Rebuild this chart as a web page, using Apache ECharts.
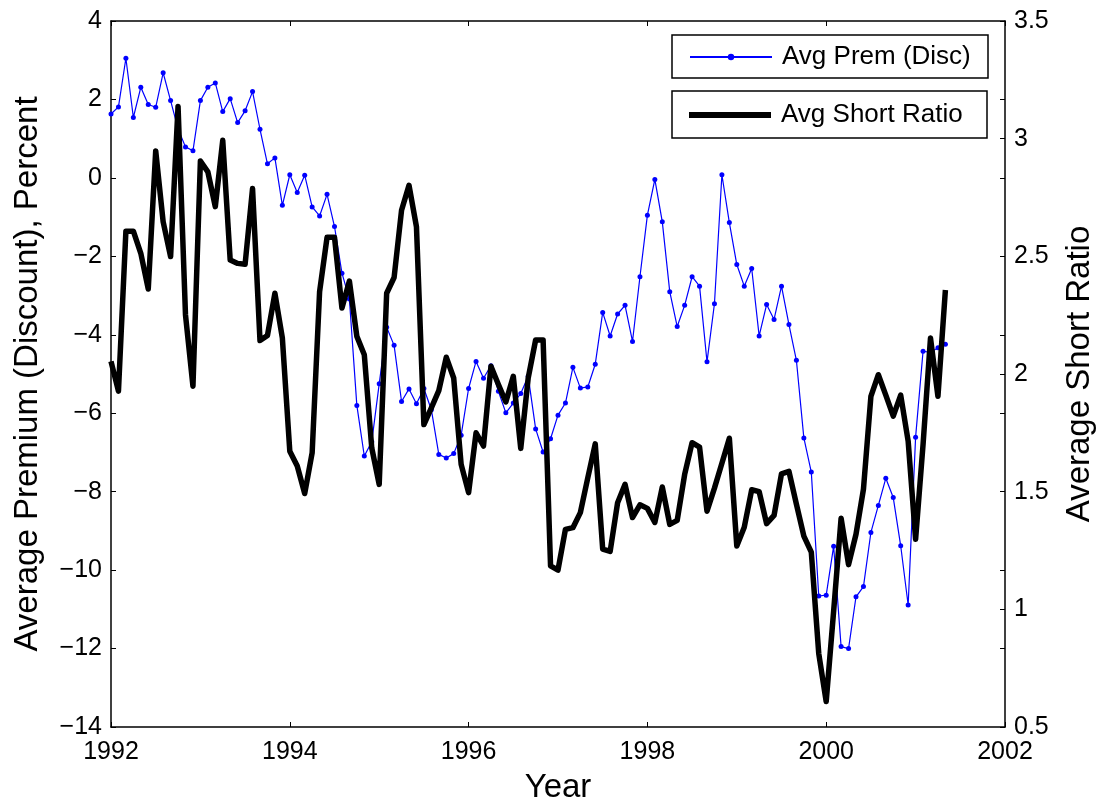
<!DOCTYPE html>
<html style="height: 100%">
<head>
<meta charset="utf-8">
<script src="https://cdn.jsdelivr.net/npm/echarts@6/dist/echarts.min.js"></script>
</head>
<body style="height: 100%; margin: 0; background: #fff">
<div id="chart" style="width: 1102px; height: 803px;"></div>
<script type="text/javascript">
// monthly observations, Jan 1992 .. May 2001
var startYear = 1992;
var premDisc = [
    1.63, 1.81, 3.05, 1.54, 2.31, 1.87, 1.80, 2.68, 1.97, 1.25, 0.79, 0.69,
    1.97, 2.31, 2.42, 1.69, 2.02, 1.41, 1.71, 2.20, 1.24, 0.36, 0.51, -0.70,
    0.08, -0.37, 0.07, -0.74, -0.97, -0.42, -1.24, -2.43, -3.09, -5.80, -7.09, -6.73,
    -5.25, -3.81, -4.27, -5.70, -5.38, -5.76, -5.37, -5.91, -7.05, -7.14, -7.03, -6.56,
    -5.37, -4.68, -5.11, -4.79, -5.44, -5.99, -5.74, -5.50, -5.06, -6.40, -6.99, -6.65,
    -6.05, -5.74, -4.83, -5.36, -5.33, -4.75, -3.43, -4.03, -3.47, -3.25, -4.17, -2.52,
    -0.95, -0.04, -1.12, -2.90, -3.79, -3.25, -2.52, -2.76, -4.69, -3.21, 0.08, -1.14,
    -2.21, -2.76, -2.31, -4.03, -3.23, -3.61, -2.76, -3.74, -4.65, -6.63, -7.50, -10.66,
    -10.64, -9.39, -11.95, -12.00, -10.68, -10.42, -9.04, -8.35, -7.66, -8.15, -9.38, -10.89,
    -6.61, -4.42, -4.45, -4.33, -4.24
];
var shortRatio = [
    2.054, 1.927, 2.607, 2.607, 2.513, 2.361, 2.948, 2.647, 2.499, 3.137, 2.251, 1.948,
    2.905, 2.859, 2.711, 2.993, 2.484, 2.470, 2.466, 2.788, 2.142, 2.164, 2.343, 2.153,
    1.672, 1.609, 1.492, 1.665, 2.350, 2.581, 2.581, 2.280, 2.395, 2.160, 2.082, 1.686,
    1.531, 2.343, 2.410, 2.696, 2.802, 2.626, 1.785, 1.856, 1.929, 2.071, 1.983, 1.616,
    1.496, 1.750, 1.694, 2.033, 1.955, 1.881, 1.990, 1.684, 1.983, 2.145, 2.145, 1.185,
    1.167, 1.340, 1.347, 1.411, 1.559, 1.703, 1.256, 1.246, 1.453, 1.531, 1.390, 1.444,
    1.429, 1.369, 1.520, 1.361, 1.378, 1.573, 1.708, 1.689, 1.417, 1.515, 1.621, 1.727,
    1.269, 1.349, 1.508, 1.500, 1.364, 1.399, 1.576, 1.586, 1.447, 1.311, 1.243, 0.812,
    0.608, 0.993, 1.387, 1.190, 1.319, 1.510, 1.905, 1.997, 1.910, 1.821, 1.910, 1.715,
    1.298, 1.700, 2.153, 1.905, 2.357
];
var yearTicks = [1992, 2002, 2];
var leftTicks = [-14, 4, 2];
var rightTicks = [0.5, 3.5, 0.5];

var font = 'Liberation Sans, Arial, Helvetica, sans-serif';

function toPairs(arr) {
    return arr.map(function (v, i) { return [startYear + i / 12, v]; });
}
function minus(v) {
    return String(v).replace('-', '\u2212');
}

var myChart = echarts.init(document.getElementById('chart'));

var legendText = { fontFamily: font, fontSize: 26, color: '#000', width: 198, lineHeight: 28, padding: [0, 0, 0, 5] };

var option = {
    animation: false,
    backgroundColor: '#fff',
    grid: { left: 111, right: 97, top: 21, bottom: 76, containLabel: false, outerBoundsMode: 'none' },
    legend: [
        {
            data: ['Avg Prem (Disc)'],
            left: 672, top: 35,
            orient: 'vertical',
            padding: [8, 8, 7, 17],
            itemWidth: 82, itemHeight: 8,
            borderColor: '#000', borderWidth: 1.5, backgroundColor: '#fff',
            textStyle: legendText
        },
        {
            data: [{ name: 'Avg Short Ratio', icon: 'rect' }],
            left: 672, top: 91,
            orient: 'vertical',
            padding: [10, 8, 9, 17],
            itemWidth: 82, itemHeight: 6,
            borderColor: '#000', borderWidth: 1.5, backgroundColor: '#fff',
            textStyle: legendText
        }
    ],
    xAxis: [
        {
            type: 'value', position: 'bottom',
            min: yearTicks[0], max: yearTicks[1], interval: yearTicks[2],
            name: 'Year', nameLocation: 'middle', nameGap: 44,
            nameTextStyle: { fontFamily: font, fontSize: 33, color: '#000' },
            axisLine: { onZero: false, lineStyle: { color: '#000', width: 1.5 } },
            axisTick: { inside: true, length: 5, lineStyle: { color: '#000' } },
            axisLabel: { fontFamily: font, fontSize: 25, color: '#000', margin: 13, formatter: function (v) { return String(v); } },
            splitLine: { show: false }
        },
        {
            type: 'value', position: 'top',
            min: yearTicks[0], max: yearTicks[1], interval: yearTicks[2],
            axisLine: { onZero: false, lineStyle: { color: '#000', width: 1.5 } },
            axisTick: { inside: true, length: 5, lineStyle: { color: '#000' } },
            axisLabel: { show: false },
            splitLine: { show: false }
        }
    ],
    yAxis: [
        {
            type: 'value', position: 'left',
            min: leftTicks[0], max: leftTicks[1], interval: leftTicks[2],
            name: 'Average Premium (Discount), Percent', nameLocation: 'middle', nameGap: 67, nameRotate: 90,
            nameTextStyle: { fontFamily: font, fontSize: 33, color: '#000' },
            axisLine: { show: true, onZero: false, lineStyle: { color: '#000', width: 1.5 } },
            axisTick: { show: true, inside: true, length: 5, lineStyle: { color: '#000' } },
            axisLabel: { fontFamily: font, fontSize: 25, color: '#000', margin: 9, formatter: minus },
            splitLine: { show: false }
        },
        {
            type: 'value', position: 'right',
            min: rightTicks[0], max: rightTicks[1], interval: rightTicks[2],
            name: 'Average Short Ratio', nameLocation: 'middle', nameGap: 58, nameRotate: 90,
            nameTextStyle: { fontFamily: font, fontSize: 33, color: '#000' },
            axisLine: { show: true, onZero: false, lineStyle: { color: '#000', width: 1.5 } },
            axisTick: { show: true, inside: true, length: 5, lineStyle: { color: '#000' } },
            axisLabel: { fontFamily: font, fontSize: 25, color: '#000', margin: 9 },
            splitLine: { show: false }
        },
        {
            // left axis ticks mirrored on the right edge
            type: 'value', position: 'right',
            min: leftTicks[0], max: leftTicks[1], interval: leftTicks[2],
            axisLine: { show: false, onZero: false },
            axisTick: { show: true, inside: true, length: 5, lineStyle: { color: '#000' } },
            axisLabel: { show: false },
            splitLine: { show: false }
        }
    ],
    series: [
        {
            name: 'Avg Prem (Disc)',
            type: 'line',
            xAxisIndex: 0, yAxisIndex: 0,
            data: toPairs(premDisc),
            symbol: 'circle', symbolSize: 5,
            showAllSymbol: true,
            itemStyle: { color: '#0000ff' },
            lineStyle: { color: '#0000ff', width: 1.2 },
            z: 2
        },
        {
            name: 'Avg Short Ratio',
            type: 'line',
            xAxisIndex: 0, yAxisIndex: 1,
            data: toPairs(shortRatio),
            symbol: 'none',
            itemStyle: { color: '#000' },
            lineStyle: { color: '#000', width: 5.5, join: 'round' },
            z: 3
        }
    ]
};
myChart.setOption(option);
</script>
</body>
</html>
